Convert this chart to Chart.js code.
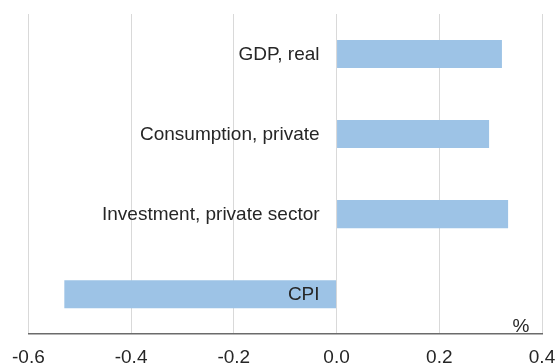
<!DOCTYPE html>
<html>
<head>
<meta charset="utf-8">
<script src="https://cdn.jsdelivr.net/npm/chart.js@4/dist/chart.umd.min.js"></script>
<style>
  html, body { margin: 0; padding: 0; background: #fff; overflow: hidden; }
  #wrap { width: 575px; height: 381px; }
</style>
</head>
<body>
<div id="wrap"><canvas id="impacto_chart"></canvas></div>
<script>
const categorias = ["GDP, real", "Consumption, private", "Investment, private sector", "CPI"];
const valores = [0.322, 0.297, 0.334, -0.530];
const ticks_x = [-0.6, -0.4, -0.2, 0.0, 0.2, 0.4];
const unidade = "%";

const fonte = '"Liberation Sans", Arial, sans-serif';
const ctx_impacto = document.getElementById("impacto_chart");

// nomes das categorias escritos junto ao zero, por cima das barras
const rotulosPlugin = {
    id: 'rotulos',
    afterDatasetsDraw(chart) {
        const { ctx, scales } = chart;
        const x0 = scales.x.getPixelForValue(0);
        ctx.save();
        ctx.font = '19px ' + fonte;
        ctx.fillStyle = '#262626';
        ctx.textAlign = 'right';
        ctx.textBaseline = 'middle';
        categorias.forEach((nome, i) => {
            ctx.fillText(nome, x0 - 17, scales.y.getPixelForValue(i) + 1);
        });
        ctx.restore();
    }
}

// escreve o "%" no canto inferior direito da area do grafico
const unidadePlugin = {
    id: 'unidade',
    afterDraw(chart) {
        const { ctx, chartArea } = chart;
        ctx.save();
        ctx.font = '19px ' + fonte;
        ctx.fillStyle = '#262626';
        ctx.textAlign = 'center';
        ctx.textBaseline = 'alphabetic';
        ctx.fillText(unidade, chartArea.right - 21, chartArea.bottom - 2);
        ctx.restore();
    }
}

const impacto_chart = new Chart(ctx_impacto, {
    type: 'bar',
    data: {
        labels: categorias,
        datasets: [{
            data: valores,
            backgroundColor: '#9dc3e6',
            borderWidth: 0,
            barPercentage: 0.35,
            categoryPercentage: 1.0
        }]
    },
    options: {
        indexAxis: 'y',
        responsive: true,
        maintainAspectRatio: false,
        animation: false,
        layout: { padding: { left: 26, right: 33, top: 14, bottom: 0 } },
        plugins: {
            legend: { display: false },
            tooltip: { enabled: false }
        },
        scales: {
            x: {
                min: ticks_x[0],
                max: ticks_x[ticks_x.length - 1],
                afterBuildTicks: (scale) => { scale.ticks = ticks_x.map(v => ({ value: v })) },
                grid: { color: '#d9d9d9', lineWidth: 1, drawTicks: false },
                border: { color: '#6b6b6b', width: 1.5 },
                ticks: {
                    padding: 12,
                    color: '#262626',
                    font: { family: fonte, size: 19 },
                    callback: (v) => Number(v).toFixed(1)
                }
            },
            y: {
                display: false
            }
        }
    },
    plugins: [rotulosPlugin, unidadePlugin]
});
</script>
</body>
</html>
